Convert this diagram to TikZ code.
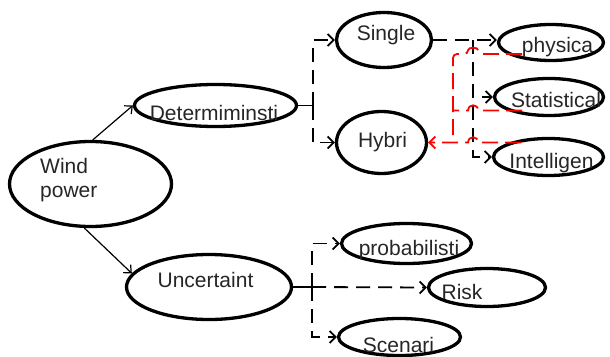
\documentclass[tikz,border=0pt]{standalone}
\usepackage{fontspec}
\setmainfont{Liberation Sans}
\usetikzlibrary{shapes.geometric, arrows.meta}

\tikzset{
  bubble/.style={ellipse, draw, line width=3.3pt, inner sep=0pt},
  word/.style={font=\fontsize{21}{24}\selectfont, text=black!85, inner sep=0pt, anchor=base},
  stem/.style={line width=1.8pt},
  dashlink/.style={line width=1.8pt, dash pattern=on 14pt off 8pt, -{Straight Barb[length=6pt,width=12pt]}},
  plainarrow/.style={line width=1.2pt, -{Straight Barb[length=6pt,width=11pt]}},
  redlink/.style={red, line width=1.8pt, dash pattern=on 16pt off 7pt}
}

\begin{document}
\begin{tikzpicture}[x=1pt, y=-1pt]
  \useasboundingbox (0,0) rectangle (610,356);

  % ellipses
  \node[bubble, minimum width=162pt, minimum height=85pt] (wind) at (90.5,184) {};
  \node[bubble, minimum width=162pt, minimum height=42pt] (det) at (215.5,105.5) {};
  \node[bubble, minimum width=165pt, minimum height=65pt] (unc) at (209,287) {};
  \node[bubble, minimum width=95pt, minimum height=55pt] (single) at (384,40) {};
  \node[bubble, minimum width=90pt, minimum height=62pt] (hybri) at (381.5,142.5) {};
  \node[bubble, minimum width=105pt, minimum height=36pt] (phys) at (551,42.5) {};
  \node[bubble, minimum width=109pt, minimum height=37pt] (stat) at (549,97) {};
  \node[bubble, minimum width=110pt, minimum height=37pt] (intel) at (548.5,157) {};
  \node[bubble, minimum width=130pt, minimum height=40pt] (prob) at (406.5,243.5) {};
  \node[bubble, minimum width=117pt, minimum height=38pt] (risk) at (487,287.5) {};
  \node[bubble, minimum width=122pt, minimum height=37pt] (scen) at (399.5,337) {};

  % texts
  \node[word, align=left, anchor=base west] (windt) at (40,197) {Wind\\power};
  \node[word] (dett) at (214,120) {Determiminsti};
  \node[word] (unct) at (205.5,287) {Uncertaint};
  \node[word] (singlet) at (386,40.5) {Single};
  \node[word] (hybrit) at (382.5,147) {Hybri};
  \node[word] (physt) at (557.5,52) {physica};
  \node[word] (statt) at (556,107) {Statistical};
  \node[word] (intelt) at (551.5,168) {Intelligen};
  \node[word] (probt) at (409,255) {probabilisti};
  \node[word] (riskt) at (462,299) {Risk};
  \node[word] (scent) at (398.5,352) {Scenari};

  % wind power to the two groups
  \draw[plainarrow] (wind.87) -- (det.west);
  \draw[plainarrow] (wind.262) -- (unc.170);

  % deterministic branch
  \draw[stem] (det.east) -- ++(15,0) coordinate (dj);
  \draw[dashlink] (dj) |- (single.west);
  \draw[dashlink] (dj) |- (hybri.west);

  % single branch
  \path (single.east) ++(40,0) coordinate (sj);
  \draw[dashlink] (single.east) -- (single.east -| phys.west);
  \draw[dashlink] (sj) |- (stat.west);
  \draw[dashlink] (sj) |- (intel.west);

  % red feedback into hybri
  \coordinate (r1) at (522,54);
  \coordinate (r2) at (522,110.5);
  \coordinate (r3) at (521,142.5);
  \coordinate (rx) at (453,0);
  \draw[redlink, rounded corners=4pt] (r1) -- ([xshift=5pt]r1 -| sj) .. controls +(0,-7) and +(0,-7) .. ([xshift=-5pt]r1 -| sj) -- (r1 -| rx) -- (r3 -| rx);
  \draw[redlink] (r2) -- ([xshift=5pt]r2 -| sj) .. controls +(0,-7) and +(0,-7) .. ([xshift=-5pt]r2 -| sj) -- (r2 -| rx);
  \draw[redlink, -{Straight Barb[length=6pt,width=12pt]}] (r3) -- ([xshift=5pt]r3 -| sj) .. controls +(0,-7) and +(0,-7) .. ([xshift=-5pt]r3 -| sj) -- (hybri.east);

  % uncertainty branch
  \draw[stem] (unc.east) -- ++(19,0) coordinate (uj);
  \draw[dashlink] (uj) |- (prob.west);
  \draw[dashlink] (uj) -- (risk.west);
  \draw[dashlink] (uj) |- (scen.west);
\end{tikzpicture}
\end{document}
